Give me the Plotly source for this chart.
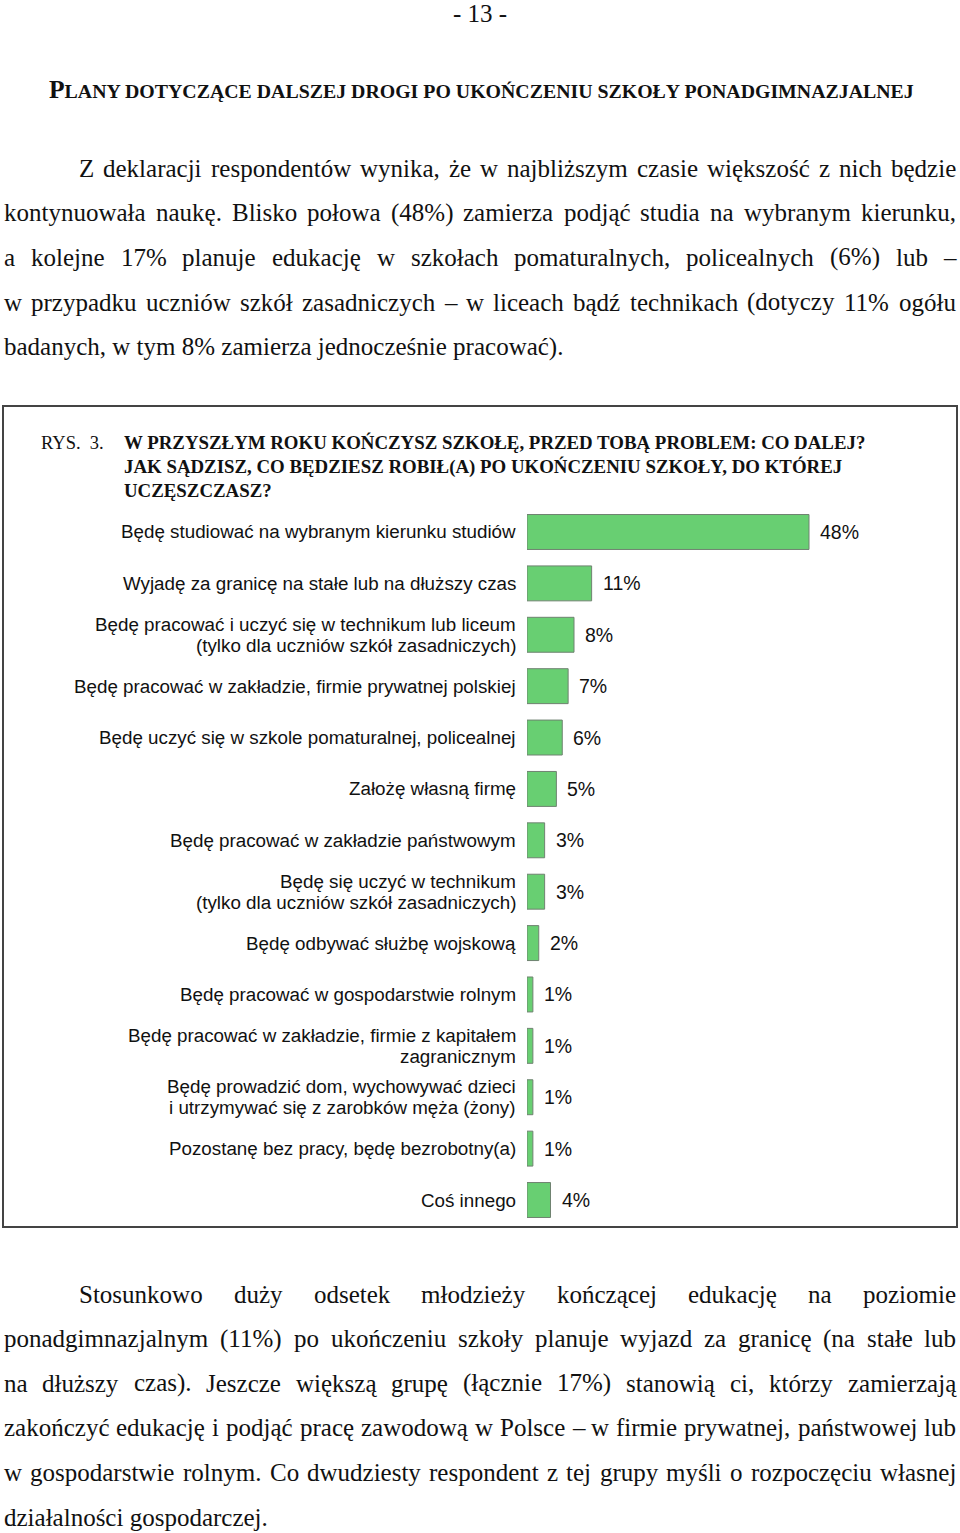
import plotly.graph_objects as go

W, H = 960, 1533

# ---------------- data ----------------
categories = [
    "Będę studiować na wybranym kierunku studiów",
    "Wyjadę za granicę na stałe lub na dłuższy czas",
    "Będę pracować i uczyć się w technikum lub liceum<br>(tylko dla uczniów szkół zasadniczych)",
    "Będę pracować w zakładzie, firmie prywatnej polskiej",
    "Będę uczyć się w szkole pomaturalnej, policealnej",
    "Założę własną firmę",
    "Będę pracować w zakładzie państwowym",
    "Będę się uczyć w technikum<br>(tylko dla uczniów szkół zasadniczych)",
    "Będę odbywać służbę wojskową",
    "Będę pracować w gospodarstwie rolnym",
    "Będę pracować w zakładzie, firmie z kapitałem<br>zagranicznym",
    "Będę prowadzić dom, wychowywać dzieci<br>i utrzymywać się z zarobków męża (żony)",
    "Pozostanę bez pracy, będę bezrobotny(a)",
    "Coś innego",
]
values = [48, 11, 8, 7, 6, 5, 3, 3, 2, 1, 1, 1, 1, 4]

page_number = "- 13 -"
section_title_first = "P"
section_title_rest = "LANY DOTYCZĄCE DALSZEJ DROGI PO UKOŃCZENIU SZKOŁY PONADGIMNAZJALNEJ"

para1 = [
    "Z deklaracji respondentów wynika, że w najbliższym czasie większość z nich będzie",
    "kontynuowała naukę. Blisko połowa (48%) zamierza podjąć studia na wybranym kierunku,",
    "a kolejne 17% planuje edukację w szkołach pomaturalnych, policealnych (6%) lub –",
    "w przypadku uczniów szkół zasadniczych – w liceach bądź technikach (dotyczy 11% ogółu",
    "badanych, w tym 8% zamierza jednocześnie pracować).",
]
para2 = [
    "Stosunkowo duży odsetek młodzieży kończącej edukację na poziomie",
    "ponadgimnazjalnym (11%) po ukończeniu szkoły planuje wyjazd za granicę (na stałe lub",
    "na dłuższy czas). Jeszcze większą grupę (łącznie 17%) stanowią ci, którzy zamierzają",
    "zakończyć edukację i podjąć pracę zawodową w Polsce – w firmie prywatnej, państwowej lub",
    "w gospodarstwie rolnym. Co dwudziesty respondent z tej grupy myśli o rozpoczęciu własnej",
    "działalności gospodarczej.",
]
fig_label = "RYS.&nbsp;&nbsp;3."
fig_title_lines = [
    "W PRZYSZŁYM ROKU KOŃCZYSZ SZKOŁĘ, PRZED TOBĄ PROBLEM: CO DALEJ?",
    "JAK SĄDZISZ, CO BĘDZIESZ ROBIŁ(A) PO UKOŃCZENIU SZKOŁY, DO KTÓREJ",
    "UCZĘSZCZASZ?",
]

SERIF = "Liberation Serif, Times New Roman, serif"
SANS = "Liberation Sans, Arial, sans-serif"

# Times New Roman metrics (1/1000 em)
TW = {' ': 250, '.': 250, ',': 250, '(': 333, ')': 333, '%': 833, '–': 500, ':': 278,
      '?': 444, '-': 333}
for c, w in zip("abcdefghijklmnopqrstuvwxyz",
                [444, 500, 444, 500, 444, 333, 500, 500, 278, 278, 500, 278, 778, 500, 500,
                 500, 500, 333, 389, 278, 500, 500, 722, 500, 500, 444]):
    TW[c] = w
for c, w in zip("ABCDEFGHIJKLMNOPQRSTUVWXYZ",
                [722, 667, 667, 722, 611, 556, 722, 722, 333, 389, 722, 611, 889, 722, 722,
                 556, 722, 667, 556, 611, 722, 722, 944, 722, 722, 611]):
    TW[c] = w
for d in "0123456789":
    TW[d] = 500
TW.update({'ą': 444, 'ć': 444, 'ę': 444, 'ł': 278, 'ń': 500, 'ó': 500, 'ś': 389,
           'ź': 444, 'ż': 444, 'Ł': 611, 'Ś': 556, 'Ż': 611})


def tw(s, size):
    return sum(TW.get(ch, 500) for ch in s) * size / 1000.0


def px(x):
    return x / W


def py(y):
    return 1 - y / H


annotations = []
BODY = 25


def add_text(x, y, text, size, family, anchor="left", color="#111"):
    annotations.append(dict(
        x=px(x), y=py(y), xref="paper", yref="paper", text=text, showarrow=False,
        xanchor=anchor, yanchor="middle", borderpad=0, borderwidth=0,
        font=dict(size=size, family=family, color=color)))


def justified(line, y, xl, xr, justify=True):
    words = line.split(" ")
    if not justify or len(words) == 1:
        add_text(xl, y, line, BODY, SERIF)
        return
    widths = [tw(w, BODY) for w in words]
    gap = (xr - xl - sum(widths)) / (len(words) - 1)
    x = xl
    for w, wd in zip(words, widths):
        add_text(x, y, w, BODY, SERIF)
        x += wd + gap


def paragraph(lines, y0, dy):
    for i, line in enumerate(lines):
        xl = 79 if i == 0 else 4
        last = i == len(lines) - 1
        justified(line, y0 + i * dy, xl, 956, justify=not last)


# header
add_text(480, 13, page_number, 25, SERIF, anchor="center")
add_text(49, 89,
         f"<b><span style='font-size:25.5px'>{section_title_first}</span>{section_title_rest}</b>",
         19.85, SERIF)
paragraph(para1, 168, 44.7)
paragraph(para2, 1294, 44.6)

# figure caption
add_text(41, 443, fig_label, 18.5, SERIF)
for i, t in enumerate(fig_title_lines):
    add_text(124, 443 + i * 23.5, f"<b>{t}</b>", 18.85, SERIF)

# ---------------- chart ----------------
x0_px, unit = 527, 5.875
xmax = 50
row_top, row_step = 532, 51.385
n = len(categories)
y_dom_top = row_top - row_step / 2
y_dom_bot = row_top + (n - 0.5) * row_step

fig = go.Figure(go.Bar(
    x=values, y=categories, orientation="h", width=0.68,
    marker=dict(color="#68CF72", line=dict(color="#6f8270", width=1)),
    hoverinfo="skip",
))

for cat, v in zip(categories, values):
    parts = cat.split("<br>")
    k = len(parts)
    for j, part in enumerate(parts):
        annotations.append(dict(
            x=px(516), y=cat, xref="paper", yref="y", text=part, showarrow=False,
            xanchor="right", yanchor="middle", borderpad=0, borderwidth=0,
            yshift=(k - 1) * 10.5 - j * 21,
            font=dict(size=18.8, family=SANS, color="#111")))
    annotations.append(dict(
        x=v, y=cat, xref="x", yref="y", text=f"{v}%", showarrow=False,
        xanchor="left", yanchor="middle", xshift=11, borderpad=0, borderwidth=0,
        font=dict(size=19.5, family=SANS, color="#111")))

fig.update_layout(
    width=W, height=H, margin=dict(l=0, r=0, t=0, b=0),
    paper_bgcolor="white", plot_bgcolor="white", showlegend=False,
    xaxis=dict(domain=[px(x0_px), px(x0_px + xmax * unit)], range=[0, xmax],
               visible=False, fixedrange=True),
    yaxis=dict(domain=[py(y_dom_bot), py(y_dom_top)], autorange=False,
               range=[n - 0.5, -0.5], visible=False, type="category",
               categoryorder="array", categoryarray=categories, fixedrange=True),
    annotations=annotations,
    shapes=[dict(type="rect", xref="paper", yref="paper",
                 x0=px(3), x1=px(957), y0=py(1227), y1=py(406),
                 line=dict(color="#444", width=2), fillcolor="rgba(0,0,0,0)")],
)

fig.write_html("out.html")
